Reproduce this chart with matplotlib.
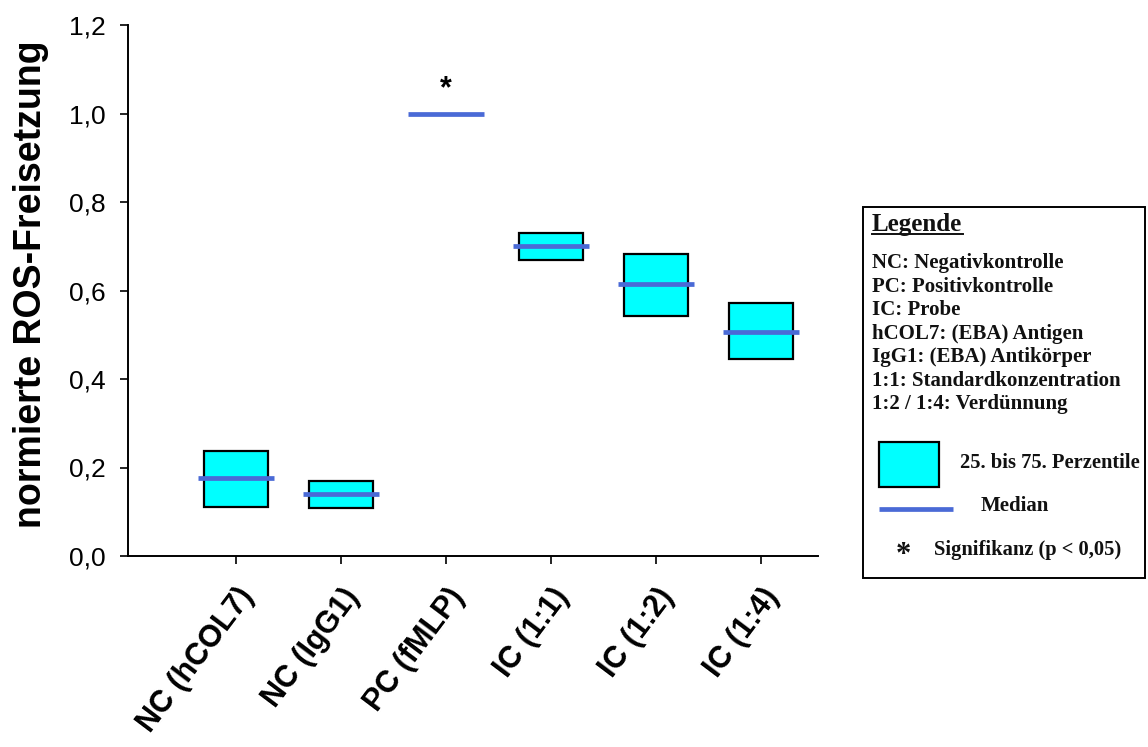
import matplotlib
matplotlib.use("Agg")
import matplotlib.pyplot as plt
import numpy as np
from matplotlib.patches import Rectangle
from matplotlib.lines import Line2D

# ROS release, normalised to the positive control
groups = ["NC (hCOL7)", "NC (IgG1)", "PC (fMLP)", "IC (1:1)", "IC (1:2)", "IC (1:4)"]
q25 = [0.111, 0.108, 1.000, 0.669, 0.542, 0.445]
median = [0.176, 0.139, 1.000, 0.700, 0.615, 0.506]
q75 = [0.237, 0.170, 1.000, 0.729, 0.682, 0.571]
significant = [False, False, True, False, False, False]

y_ticks = [0.0, 0.2, 0.4, 0.6, 0.8, 1.0, 1.2]
y_tick_labels = ["0,0", "0,2", "0,4", "0,6", "0,8", "1,0", "1,2"]

legend_lines = [
    "NC: Negativkontrolle",
    "PC: Positivkontrolle",
    "IC: Probe",
    "hCOL7: (EBA) Antigen",
    "IgG1: (EBA) Antikörper",
    "1:1: Standardkonzentration",
    "1:2 / 1:4: Verdünnung",
]

BOX_COLOR = "#00FFFF"
MEDIAN_COLOR = "#4A6AD6"
W, H = 1148, 747

fig = plt.figure(figsize=(W / 100, H / 100), dpi=100)
ax = fig.add_axes([128 / W, 1 - 556 / H, (818 - 128) / W, (556 - 25) / H])

x = np.arange(len(groups))
q25_a, q75_a, med_a = np.array(q25), np.array(q75), np.array(median)
has_box = q75_a > q25_a

ax.bar(x[has_box], (q75_a - q25_a)[has_box], bottom=q25_a[has_box], width=0.61,
       color=BOX_COLOR, edgecolor="black", linewidth=1.6, zorder=2)
ax.hlines(med_a, x - 0.36, x + 0.36, color=MEDIAN_COLOR, linewidth=3.4,
          zorder=3, capstyle="butt")

for xi, hi, sig in zip(x, q75_a, significant):
    if sig:
        ax.text(xi, hi + 0.055, "*", ha="center", va="center",
                fontsize=22, fontweight="bold", family="Liberation Sans")

ax.set_xlim(-1.03, 5.54)
ax.set_ylim(0, 1.2)
ax.set_yticks(y_ticks)
ax.set_yticklabels(y_tick_labels, family="Liberation Sans", fontsize=19)
ax.set_xticks(x)
ax.set_xticklabels(groups, rotation=53, ha="right", va="top",
                   rotation_mode="anchor", family="Liberation Sans",
                   fontsize=22, fontweight="bold")
ax.tick_params(axis="y", direction="out", length=6, width=1.2, pad=10)
ax.tick_params(axis="x", direction="out", length=6, width=1.2, pad=13)
for side in ("top", "right"):
    ax.spines[side].set_visible(False)
for side in ("left", "bottom"):
    ax.spines[side].set_linewidth(1.4)


def fx(px):
    return px / W


def fy(py):
    return 1 - py / H


fig.text(fx(41), fy(284), "normierte ROS-Freisetzung", family="Liberation Sans",
         fontsize=27, fontweight="bold", rotation=90, rotation_mode="anchor",
         ha="center", va="baseline")

# Legend panel
fig.add_artist(Rectangle((fx(863), fy(578)), fx(1145) - fx(863), fy(207) - fy(578),
                         transform=fig.transFigure, facecolor="white",
                         edgecolor="black", linewidth=1.4))
serif = dict(family="Liberation Serif", fontweight="bold", color="#111111")
fig.text(fx(872), fy(225), "Legende", fontsize=18, va="center", ha="left", **serif)
fig.add_artist(Line2D([fx(872), fx(963)], [fy(234), fy(234)],
                      transform=fig.transFigure, color="#111111", linewidth=1.4))
for i, line in enumerate(legend_lines):
    fig.text(fx(872), fy(263 + i * 23.5), line, fontsize=15, va="center",
             ha="left", **serif)

fig.add_artist(Rectangle((fx(879), fy(487)), fx(939) - fx(879), fy(442) - fy(487),
                         transform=fig.transFigure, facecolor=BOX_COLOR,
                         edgecolor="black", linewidth=1.6))
fig.text(fx(960), fy(463), "25. bis 75. Perzentile", fontsize=14.8, va="center",
         ha="left", **serif)
fig.add_artist(Line2D([fx(879), fx(953)], [fy(509), fy(509)],
                      transform=fig.transFigure, color=MEDIAN_COLOR,
                      linewidth=3.4, solid_capstyle="butt"))
fig.text(fx(981), fy(506), "Median", fontsize=15, va="center", ha="left", **serif)
fig.text(fx(903), fy(556), "*", fontsize=22, va="center", ha="center", **serif)
fig.text(fx(934), fy(550), "Signifikanz (p < 0,05)", fontsize=14.8, va="center",
         ha="left", **serif)

fig.savefig("out.png", dpi=100, facecolor="white")
